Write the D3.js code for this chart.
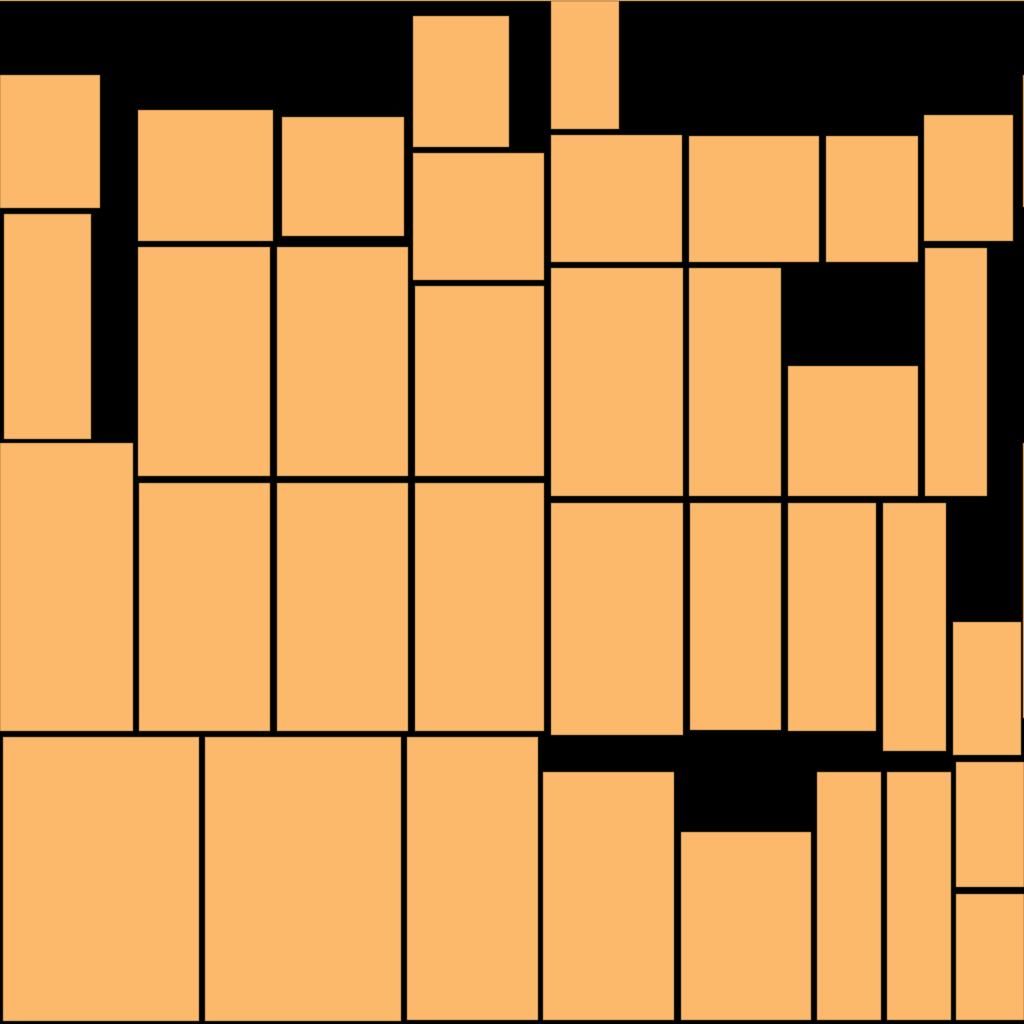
<!DOCTYPE html>
<html>
<head>
<meta charset="utf-8">
<title>Blocks</title>
<script src="https://cdn.jsdelivr.net/npm/d3@7"></script>
<style>
  body { margin: 0; background: #000; }
  svg { display: block; }
</style>
</head>
<body>
<div id="chart-area"></div>
<script>
// block ids, read left to right / top to bottom
var blockIds = d3.range(1, 40).map(function (i) { return 'B' + i; });

// block edges in picture units (0 - 1024)
var blockX0 = [0, 4, 0, 3, 138, 138, 139, 205, 282, 277, 277, 407, 413, 413, 415, 415,
  551, 551, 551, 551, 543, 689, 689, 690, 681, 826, 788, 788, 817, 924, 925, 883, 887,
  953, 956, 956, 1023, 1023, -10];
var blockY0 = [75, 214, 443, 737, 110, 247, 483, 737, 117, 247, 483, 737, 16, 153, 286, 483,
  0, 135, 268, 503, 772, 136, 268, 503, 832, 136, 366, 503, 772, 115, 248, 503, 772,
  622, 762, 894, 75, 443, -40];
var blockX1 = [100, 91, 133, 199, 273, 270, 270, 401, 404, 408, 408, 538, 509, 544, 544, 544,
  619, 682, 683, 683, 674, 819, 781, 781, 811, 918, 918, 876, 881, 1013, 987, 946, 951,
  1021, 1024, 1024, 1060, 1060, 1034];
var blockY1 = [208, 439, 731, 1021, 241, 476, 731, 1021, 236, 476, 731, 1020, 147, 280, 476, 731,
  129, 262, 496, 735, 1020, 262, 496, 730, 1020, 262, 496, 731, 1020, 241, 496, 751, 1020,
  755, 887, 1020, 207, 718, 1];

var width = 1024;
var height = 1024;

var blocks = blockIds.map(function (id, i) {
  return { id: id, x0: blockX0[i], y0: blockY0[i], x1: blockX1[i], y1: blockY1[i] };
});

var x = d3.scaleLinear().domain([0, 1024]).range([0, width]);
var y = d3.scaleLinear().domain([0, 1024]).range([0, height]);

var svg = d3.select('#chart-area')
  .append('svg')
    .attr('width', width)
    .attr('height', height);

// black ground
svg.append('rect')
  .attr('width', width)
  .attr('height', height)
  .attr('fill', '#000');

svg.selectAll('rect.block')
  .data(blocks)
  .enter()
  .append('rect')
    .attr('class', 'block')
    .attr('x', function (d) { return x(d.x0); })
    .attr('y', function (d) { return y(d.y0); })
    .attr('width', function (d) { return x(d.x1) - x(d.x0); })
    .attr('height', function (d) { return y(d.y1) - y(d.y0); })
    .attr('fill', '#fcb96c')
    .attr('stroke', '#7a5a34')
    .attr('stroke-width', 0.6);
</script>
</body>
</html>
